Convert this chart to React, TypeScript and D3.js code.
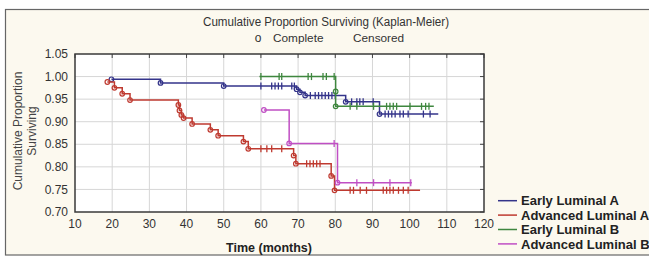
import React, { useEffect, useRef } from "react";
import * as d3 from "d3";

// time ticks and survival ticks
const xTicks = [10, 20, 30, 40, 50, 60, 70, 80, 90, 100, 110, 120];
const yTicks = [0.7, 0.75, 0.8, 0.85, 0.9, 0.95, 1.0, 1.05];

const groupNames = ["Early Luminal A", "Advanced Luminal A", "Early Luminal B", "Advanced Luminal B"];
const groupColors = ["#34348a", "#bf3a30", "#3f873f", "#c04fc4"];

// Early Luminal A
const elaStart = 19.8;
const elaEnd = 107.7;
const elaEventTimes = [19.8, 33, 50, 69.6, 70.5, 71.9, 82.8, 91.9];
const elaEventSurv = [0.994, 0.986, 0.979, 0.972, 0.965, 0.958, 0.944, 0.917];
const elaCensored = [60, 62.9, 63.8, 64.7, 65.6, 68.3, 69, 73.3, 74.6, 75.5, 76.4, 77.3, 78.2, 79.1, 80,
  84.4, 85.8, 86.6, 87.5, 90.2, 93.4, 94.3, 95.2, 96.1, 97.4, 98.3, 99.6, 103.7, 105.5];

// Advanced Luminal A
const alaStart = 18.7;
const alaEnd = 102.8;
const alaEventTimes = [18.7, 20.6, 22.7, 24.8, 37.8, 38.1, 38.6, 39.2, 41.5, 46.4, 48.5, 55.3, 56.6, 68.8, 69.4, 78.9, 79.8];
const alaEventSurv = [0.988, 0.975, 0.962, 0.948, 0.937, 0.925, 0.915, 0.908, 0.895, 0.882, 0.869, 0.856, 0.84,
  0.825, 0.807, 0.78, 0.748];
const alaCensored = [60, 61.6, 62.9, 65.6, 72.3, 73.2, 74.1, 75, 75.9, 84, 84.9, 86.7, 88.4, 92.9, 93.8, 94.7,
  95.6, 97, 98.3, 99.6];

// Early Luminal B
const elbStart = 59.6;
const elbEnd = 106.5;
const elbEventTimes = [80.1, 80.1];
const elbEventSurv = [0.967, 0.934];
const elbCensored = [60, 64.9, 65.6, 72.7, 73.6, 76.7, 77.6, 79.7, 84, 85.8, 90.3, 93.8, 94.7, 95.6, 96.5,
  100.1, 103.2, 104.3, 105.2];

// Advanced Luminal B
const albStart = 60.8;
const albEnd = 100.6;
const albEventTimes = [60.8, 67.6, 80.6];
const albEventSurv = [0.926, 0.852, 0.765];
const albCensored = [79.7, 85.8, 90.3, 94.7, 100.3];

const groups = [
  { start: elaStart, end: elaEnd, times: elaEventTimes, surv: elaEventSurv, cens: elaCensored },
  { start: alaStart, end: alaEnd, times: alaEventTimes, surv: alaEventSurv, cens: alaCensored },
  { start: elbStart, end: elbEnd, times: elbEventTimes, surv: elbEventSurv, cens: elbCensored },
  { start: albStart, end: albEnd, times: albEventTimes, surv: albEventSurv, cens: albCensored },
];

const App = () => {
  const ref = useRef<SVGSVGElement | null>(null);

  useEffect(() => {
    const w = 649,
      h = 258;
    const left = 75,
      right = 484,
      top = 54,
      bottom = 212;
    const font = "'Liberation Sans', Arial, sans-serif";

    const svg = d3.select(ref.current);
    svg.selectAll("*").remove();
    svg.attr("width", w).attr("height", h);

    const x = d3.scaleLinear().domain([10, 120]).range([left, right]);
    const y = d3.scaleLinear().domain([0.7, 1.05]).range([bottom, top]);

    svg.append("rect").attr("width", w).attr("height", h).attr("fill", "#fff");
    svg.append("rect")
      .attr("x", 5.5).attr("y", 9.5).attr("width", w).attr("height", 245.5)
      .attr("fill", "#fcf9ef").attr("stroke", "#666").attr("stroke-width", 1.2);

    // plot area
    svg.append("rect")
      .attr("x", left).attr("y", top).attr("width", right - left).attr("height", bottom - top)
      .attr("fill", "#fff");

    const grid = svg.append("g").attr("stroke", "#d6d6d6").attr("stroke-width", 1);
    grid.selectAll("line.v")
      .data(xTicks.slice(1, -1))
      .enter().append("line")
      .attr("x1", d => x(d)).attr("x2", d => x(d))
      .attr("y1", top).attr("y2", bottom);
    grid.selectAll("line.h")
      .data(yTicks.slice(1, -1))
      .enter().append("line")
      .attr("x1", left).attr("x2", right)
      .attr("y1", d => y(d)).attr("y2", d => y(d));

    // inward ticks on top and right
    const tk = svg.append("g").attr("stroke", "#444").attr("stroke-width", 1);
    tk.selectAll("line.t")
      .data(xTicks)
      .enter().append("line")
      .attr("x1", d => x(d)).attr("x2", d => x(d))
      .attr("y1", top).attr("y2", top + 4);
    tk.selectAll("line.r")
      .data(yTicks)
      .enter().append("line")
      .attr("x1", right).attr("x2", right - 4)
      .attr("y1", d => y(d)).attr("y2", d => y(d));

    svg.append("rect")
      .attr("x", left).attr("y", top).attr("width", right - left).attr("height", bottom - top)
      .attr("fill", "none").attr("stroke", "#3a3a3a").attr("stroke-width", 1.5);

    // tick labels
    svg.append("g").selectAll("text")
      .data(yTicks)
      .enter().append("text")
      .attr("x", 68).attr("y", d => y(d) + 4.2)
      .attr("text-anchor", "end")
      .style("font-family", font).style("font-size", "12px").style("fill", "#333")
      .text(d => d3.format(".2f")(d));
    svg.append("g").selectAll("text")
      .data(xTicks)
      .enter().append("text")
      .attr("x", d => x(d)).attr("y", 228)
      .attr("text-anchor", "middle")
      .style("font-family", font).style("font-size", "12px").style("fill", "#333")
      .text(d => d);

    // titles
    svg.append("text")
      .attr("x", 203).attr("y", 25.5).attr("textLength", 246).attr("lengthAdjust", "spacingAndGlyphs")
      .style("font-family", font).style("font-size", "12px").style("fill", "#333")
      .text("Cumulative Proportion Surviving (Kaplan-Meier)");
    svg.append("text")
      .attr("x", 258).attr("y", 41.5).attr("text-anchor", "middle")
      .style("font-family", font).style("font-size", "12px").style("fill", "#333")
      .text("o");
    svg.append("text")
      .attr("x", 273).attr("y", 41.5)
      .style("font-family", font).style("font-size", "11.8px").style("fill", "#333")
      .text("Complete");
    svg.append("text")
      .attr("x", 353).attr("y", 41.5)
      .style("font-family", font).style("font-size", "11.8px").style("fill", "#333")
      .text("Censored");

    svg.append("text")
      .attr("x", 269).attr("y", 251.5)
      .attr("text-anchor", "middle")
      .style("font-family", font).style("font-size", "12.5px").style("font-weight", "bold").style("fill", "#222")
      .text("Time (months)");

    const yt = svg.append("g").attr("transform", "translate(0,131) rotate(-90)");
    yt.append("text")
      .attr("x", 0).attr("y", 22)
      .attr("text-anchor", "middle")
      .style("font-family", font).style("font-size", "12px").style("fill", "#444")
      .text("Cumulative Proportion");
    yt.append("text")
      .attr("x", 0).attr("y", 36)
      .attr("text-anchor", "middle")
      .style("font-family", font).style("font-size", "12px").style("fill", "#444")
      .text("Surviving");

    // survival curves
    groups.forEach((g, gi) => {
      const color = groupColors[gi];
      const level = (t: number) => {
        let s = 1;
        g.times.forEach((et, i) => {
          if (et <= t) s = g.surv[i];
        });
        return s;
      };
      const pts: [number, number][] = [[g.start, level(g.start)]];
      let cur = level(g.start);
      g.times.forEach((et, i) => {
        if (et <= g.start) return;
        pts.push([et, cur]);
        cur = g.surv[i];
        pts.push([et, cur]);
      });
      pts.push([g.end, cur]);

      const line = d3.line<[number, number]>().x(d => x(d[0])).y(d => y(d[1]));
      const gg = svg.append("g");
      gg.append("path")
        .attr("d", line(pts))
        .attr("fill", "none").attr("stroke", color).attr("stroke-width", 1.5);

      gg.selectAll("line.c")
        .data(g.cens)
        .enter().append("line")
        .attr("x1", d => x(d)).attr("x2", d => x(d))
        .attr("y1", d => y(level(d)) - 3.5).attr("y2", d => y(level(d)) + 3.5)
        .attr("stroke", color).attr("stroke-width", 1.3);

      gg.selectAll("circle")
        .data(g.times.map((t, i) => [t, g.surv[i]]))
        .enter().append("circle")
        .attr("cx", d => x(d[0])).attr("cy", d => y(d[1])).attr("r", 2.3)
        .attr("fill", "none").attr("stroke", color).attr("stroke-width", 1.2);
    });

    // legend
    const lg = svg.append("g");
    groupNames.forEach((name, i) => {
      const cy = 200.7 + i * 14.4;
      lg.append("line")
        .attr("x1", 498).attr("x2", 517).attr("y1", cy).attr("y2", cy)
        .attr("stroke", groupColors[i]).attr("stroke-width", 1.5);
      lg.append("text")
        .attr("x", 521).attr("y", cy + 4.6)
        .style("font-family", font).style("font-size", "13px").style("font-weight", "bold").style("fill", "#222")
        .text(name);
    });
  }, []);

  return (
    <div style={{ position: "absolute", left: 0, top: 0 }}>
      <svg ref={ref} style={{ display: "block" }}></svg>
    </div>
  );
};

export default App;
